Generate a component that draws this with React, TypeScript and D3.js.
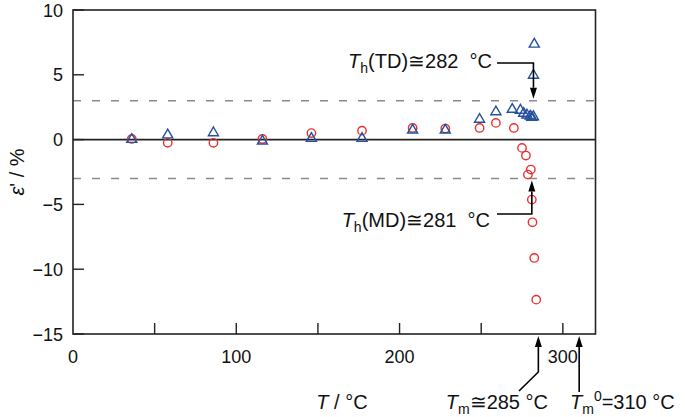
/**
 * Dimensional change ε' vs temperature, TD (triangles) and MD (circles).
 * Drawn with d3 into an svg ref, annotations placed through the same scales.
 */
import React, { useRef, useEffect } from 'react';
import * as d3 from 'd3';

const WIDTH = 685;
const HEIGHT = 417;
const FONT = 'Liberation Sans, Arial, sans-serif';

// TD series (blue triangles)
const tdTemp = [36, 58, 86, 116, 146, 177, 208, 228, 249, 259, 269, 274, 276, 278, 280, 281, 282, 282, 282.5];
const tdStrain = [0.05, 0.4, 0.56, -0.08, 0.13, 0.13, 0.77, 0.77, 1.6, 2.18, 2.37, 2.3, 2.06, 1.93, 1.85, 1.75, 1.8, 5.0, 7.4];

// MD series (red circles)
const mdTemp = [36, 58, 86, 116, 146, 177, 208, 228, 249, 259, 270, 275, 277.4, 280.4, 278.6, 281, 281.4, 282.5, 283.7];
const mdStrain = [0.05, -0.25, -0.25, 0.05, 0.5, 0.69, 0.9, 0.85, 0.9, 1.29, 0.9, -0.64, -1.23, -2.31, -2.7, -4.63, -6.38, -9.13, -12.35];

const xTicks = [0, 100, 200, 300];
const xMinorTicks = [50, 100, 150, 200, 250, 300];
const yTicks = [10, 5, 0, -5, -10, -15];
const threshold = [3, -3];

const TH_TD = 282;
const TH_MD = 281;
const TM = 285;
const TM0 = 310;

const RED = '#e8322f';
const BLUE = '#24509f';
const INK = '#222';
const NB = '\u00a0';

export default function App() {
  const svgRef = useRef<SVGSVGElement>(null);

  useEffect(() => {
    if (!svgRef.current) return;
    const svg = d3.select(svgRef.current);
    svg.selectAll('*').remove();

    const x = d3.scaleLinear().domain([0, 320]).range([73, 595.5]);
    const y = d3.scaleLinear().domain([-15, 10]).range([334, 10]);
    const [x0, x1] = x.range();
    const [y0, y1] = y.range();

    // dashed ±3 % guides
    threshold.forEach((v) => {
      svg.append('line')
        .attr('x1', x0).attr('x2', x1)
        .attr('y1', y(v)).attr('y2', y(v))
        .attr('stroke', '#8a8a8a').attr('stroke-width', 1.4)
        .attr('stroke-dasharray', '8,11');
    });

    // zero line
    svg.append('line')
      .attr('x1', x0).attr('x2', x1)
      .attr('y1', y(0)).attr('y2', y(0))
      .attr('stroke', INK).attr('stroke-width', 1.6);

    // frame
    svg.append('rect')
      .attr('x', x0).attr('y', y1)
      .attr('width', x1 - x0).attr('height', y0 - y1)
      .attr('fill', 'none').attr('stroke', INK).attr('stroke-width', 1.6);

    // inward ticks
    xMinorTicks.forEach((t) => {
      svg.append('line')
        .attr('x1', x(t)).attr('x2', x(t))
        .attr('y1', y0).attr('y2', y0 - 11)
        .attr('stroke', INK).attr('stroke-width', 1.4);
    });
    yTicks.forEach((t) => {
      svg.append('line')
        .attr('x1', x0).attr('x2', x0 + 11)
        .attr('y1', y(t)).attr('y2', y(t))
        .attr('stroke', INK).attr('stroke-width', 1.4);
    });

    const fmt = d3.format('');
    xTicks.forEach((t) => {
      svg.append('text')
        .attr('x', x(t)).attr('y', 363)
        .attr('text-anchor', 'middle')
        .attr('font-family', FONT).attr('font-size', '18px').attr('fill', '#111')
        .text(fmt(t));
    });
    yTicks.forEach((t) => {
      svg.append('text')
        .attr('x', 63).attr('y', y(t) + 6.5)
        .attr('text-anchor', 'end')
        .attr('font-family', FONT).attr('font-size', '18px').attr('fill', '#111')
        .text(fmt(t));
    });

    // axis titles
    const yTitle = svg.append('text')
      .attr('transform', `translate(24, ${(y0 + y1) / 2}) rotate(-90)`)
      .attr('text-anchor', 'middle')
      .attr('font-family', FONT).attr('font-size', '20px').attr('fill', '#111');
    yTitle.append('tspan').attr('font-style', 'italic').text('ε');
    yTitle.append('tspan').text("'" + NB + '/' + NB + '%');

    const xTitle = svg.append('text')
      .attr('x', 342).attr('y', 409)
      .attr('text-anchor', 'middle')
      .attr('font-family', FONT).attr('font-size', '20px').attr('fill', '#111');
    xTitle.append('tspan').attr('font-style', 'italic').text('T');
    xTitle.append('tspan').text(NB + '/' + NB + '°C');

    // data
    const g = svg.append('g');
    const tri = d3.symbol().type(d3.symbolTriangle).size(44);
    mdTemp.forEach((t, i) => {
      g.append('circle')
        .attr('cx', x(t)).attr('cy', y(mdStrain[i])).attr('r', 4.2)
        .attr('fill', 'none').attr('stroke', RED).attr('stroke-width', 1.4);
    });
    tdTemp.forEach((t, i) => {
      g.append('path')
        .attr('d', tri() ?? '')
        .attr('transform', `translate(${x(t)}, ${y(tdStrain[i]) + 0.5})`)
        .attr('fill', 'none').attr('stroke', BLUE).attr('stroke-width', 1.4);
    });

    // arrows
    const arrow = (pts: [number, number][]) => {
      const n = pts.length;
      const [ax, ay] = pts[n - 1];
      const [bx, by] = pts[n - 2];
      const ang = Math.atan2(ay - by, ax - bx);
      const len = 11;
      const half = 3.5;
      const baseX = ax - len * Math.cos(ang);
      const baseY = ay - len * Math.sin(ang);
      const line = pts.slice(0, n - 1).concat([[baseX, baseY]]);
      svg.append('path')
        .attr('d', d3.line()(line) ?? '')
        .attr('fill', 'none').attr('stroke', '#000').attr('stroke-width', 1.6);
      const px = -Math.sin(ang);
      const py = Math.cos(ang);
      svg.append('path')
        .attr('d', `M${ax},${ay}L${baseX + half * px},${baseY + half * py}L${baseX - half * px},${baseY - half * py}Z`)
        .attr('fill', '#000');
    };

    arrow([[497, 63], [x(TH_TD), 63], [x(TH_TD), y(3) - 2]]);
    arrow([[497, 214], [x(TH_MD), 214], [x(TH_MD), y(-3) + 2]]);
    arrow([[519, 391], [x(TM), 372], [x(TM), y0 + 2]]);
    arrow([[x(TM0), 392], [x(TM0), y0 + 2]]);

    // annotation labels
    const label = (ax: number, ay: number, anchor: string, sub: string, rest: string, sup?: string) => {
      const t = svg.append('text')
        .attr('x', ax).attr('y', ay)
        .attr('text-anchor', anchor)
        .attr('font-family', FONT).attr('font-size', '20px').attr('fill', '#111');
      t.append('tspan').attr('font-style', 'italic').text('T');
      t.append('tspan').attr('font-size', '14px').attr('dy', 5).text(sub);
      if (sup) {
        t.append('tspan').attr('font-size', '14px').attr('dy', -13).text(sup);
        t.append('tspan').attr('dy', 8).text(rest);
      } else {
        t.append('tspan').attr('dy', -5).text(rest);
      }
    };

    label(492, 68, 'end', 'h', '(TD)≅282' + NB + NB + '°C');
    label(490, 227, 'end', 'h', '(MD)≅281' + NB + NB + '°C');
    label(548, 409, 'end', 'm', '≅285' + NB + '°C');
    label(570, 409, 'start', 'm', '=310' + NB + '°C', '0');
  }, []);

  return (
    <svg
      ref={svgRef}
      width={WIDTH}
      height={HEIGHT}
      viewBox={`0 0 ${WIDTH} ${HEIGHT}`}
      style={{ position: 'absolute', left: 0, top: 0, background: '#fff' }}
    />
  );
}
